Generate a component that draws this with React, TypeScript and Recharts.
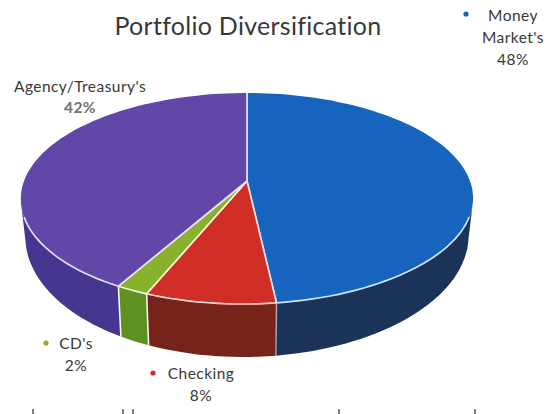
import { PieChart, Pie, Cell } from 'recharts';

const categories = ["Money Market's", 'Checking', "CD's", "Agency/Treasury's"];
const shares = [48, 8, 2, 42];
const topColors = ['#1764be', '#d12d27', '#88b12e', '#6148a8'];
const wallColors = ['#1b3358', '#76231a', '#5f9022', '#46368f'];
const rimColors = ['#cfe2f7', '#fbdcd8', '#f3f8d8', '#e6defa'];

const chartData = categories.map((name, i) => ({ name, value: shares[i] }));

// label placement: text centre, bullet centre, line spacing
const labelLayout = [
  { lines: ['Money', "Market's", '48%'], x: 513, y: 16, bx: 466, by: 14 },
  { lines: ['Checking', '8%'], x: 201, y: 374, bx: 153, by: 373 },
  { lines: ["CD's", '2%'], x: 76, y: 344, bx: 46, by: 343 },
  { lines: ['Agency/Treasury\'s', '42%'], x: 80, y: 87 },
];

const scanMarks = [33, 123, 133, 339, 475];

const W = 556;
const H = 414;

// tilted disc: a unit circle pushed through a small perspective divide
const apexX = 247;
const apexY = 181;
const scaleX = 223;
const scaleY = 102.6;
const tilt = 0.166;

function project(angle: number) {
  const rad = (angle * Math.PI) / 180;
  const u = Math.cos(rad);
  const v = -Math.sin(rad);
  const w = 1 - tilt * v;
  const y = apexY + (scaleY * v) / w;
  // near edge leans slightly left
  const near = Math.max(0, y - apexY) / 115;
  return { x: apexX + (scaleX * u) / w - 3.5 * near * near, y, v };
}

// the matching point on the lower edge of the wall
function drop(p: { x: number; y: number }) {
  return { x: apexX + (p.x - apexX) * 0.98, y: apexY + 35 + (p.y - apexY) * 1.146 };
}

function arcPoints(from: number, to: number) {
  const steps = Math.max(2, Math.ceil(Math.abs(to - from) / 2));
  const pts = [];
  for (let i = 0; i <= steps; i++) pts.push(project(from + ((to - from) * i) / steps));
  return pts;
}

const toPath = (pts: { x: number; y: number }[]) =>
  pts.map((p, i) => `${i ? 'L' : 'M'}${p.x.toFixed(1)} ${p.y.toFixed(1)}`).join(' ');

function DiscSlice(props: any) {
  const { startAngle, endAngle, index } = props;
  const arc = arcPoints(startAngle, endAngle);
  // the wall only shows on the near side of the disc
  const front = arc.filter((p) => p.v >= tilt);
  const rim = arc.filter((p) => p.v >= 0.3);
  const outerA = arc[0];
  const outerB = arc[arc.length - 1];

  return (
    <g>
      {front.length > 1 && (
        <path
          d={`${toPath(front)} ${toPath(front.map(drop).reverse()).replace('M', 'L')} Z`}
          fill={wallColors[index]}
        />
      )}
      {outerA.v >= tilt && index !== 0 && (
        <path
          d={toPath([outerA, drop(outerA)])}
          stroke="#f6f6f2"
          strokeWidth={1.6}
          strokeOpacity={index === 1 ? 0.5 : 1}
          fill="none"
        />
      )}
      <path d={`M${apexX} ${apexY} ${toPath(arc).replace('M', 'L')} Z`} fill={topColors[index]} />
      {rim.length > 1 && <path d={toPath(rim)} stroke={rimColors[index]} strokeWidth={1.7} fill="none" />}
      <path
        d={toPath([outerA, { x: apexX, y: apexY }, outerB])}
        stroke={rimColors[index]}
        strokeWidth={1.7}
        fill="none"
      />
    </g>
  );
}

function SliceLabel(props: any) {
  const layout = labelLayout[props.index];
  const isAgency = props.index === 3;
  return (
    <g fontFamily="Lato, sans-serif" fontSize={15.5} fill="#383838" textAnchor="middle">
      {layout.bx !== undefined && <circle cx={layout.bx} cy={layout.by} r={2.6} fill={topColors[props.index]} />}
      {layout.lines.map((line, i) => {
        const isPercent = isAgency && i === 1;
        return (
          <text
            key={line}
            x={layout.x}
            y={layout.y + (isAgency ? 21 : 22) * i}
            dy="0.35em"
            letterSpacing={0.45}
            fontWeight={isPercent ? 700 : 400}
            fill={isPercent ? '#6f7072' : '#383838'}
          >
            {line}
          </text>
        );
      })}
    </g>
  );
}

export default function App() {
  return (
    <div style={{ position: 'absolute', left: 0, top: 0, width: W, height: H, background: '#fff', overflow: 'hidden' }}>
      <PieChart width={W} height={H} margin={{ top: 0, right: 0, bottom: 0, left: 0 }}>
        <Pie
          data={chartData}
          dataKey="value"
          nameKey="name"
          cx={apexX}
          cy={apexY}
          outerRadius={100}
          startAngle={90}
          endAngle={-270}
          stroke="none"
          shape={DiscSlice}
          label={SliceLabel}
          labelLine={false}
          isAnimationActive={false}
        >
          {chartData.map((d, i) => (
            <Cell key={d.name} fill={topColors[i]} />
          ))}
        </Pie>
        <text x={248} y={35} textAnchor="middle" fontFamily="Lato, sans-serif" fontSize={25} letterSpacing={0.28} fill="#383838">
          Portfolio Diversification
        </text>
        {scanMarks.map((x) => (
          <line key={x} x1={x} x2={x} y1={409} y2={414} stroke="#55565a" strokeWidth={1.5} />
        ))}
      </PieChart>
    </div>
  );
}
